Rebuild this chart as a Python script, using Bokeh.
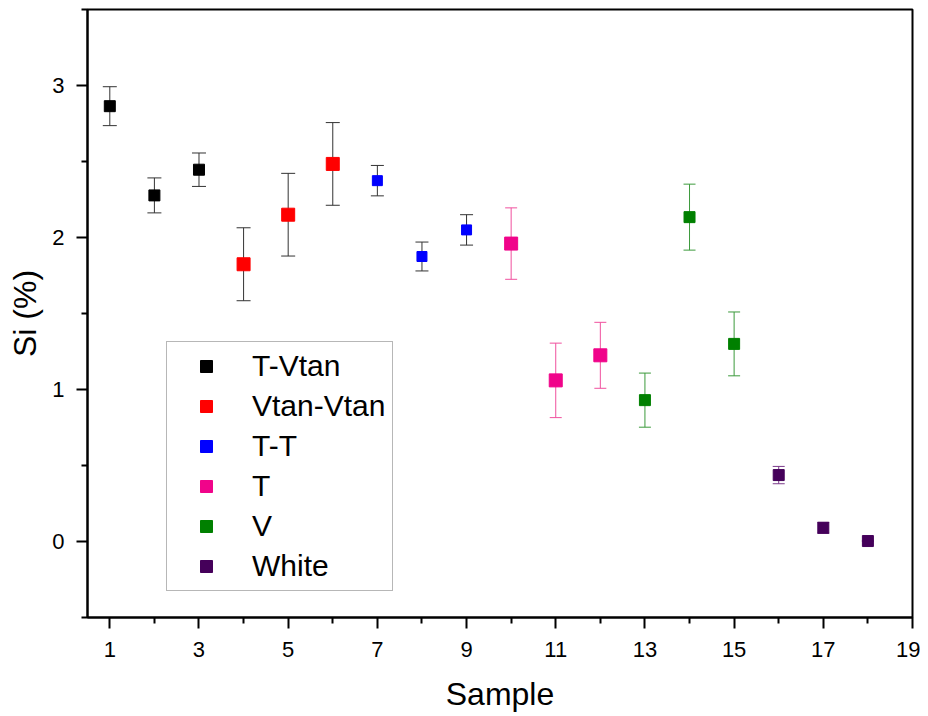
from bokeh.plotting import figure
from bokeh.models import (ColumnDataSource, Whisker, TeeHead, Legend, LegendItem,
                          FixedTicker, Range1d)
from bokeh.embed import file_html
from bokeh.resources import INLINE

# ---- data ----
series_names = ["T-Vtan", "Vtan-Vtan", "T-T", "T", "V", "White"]
samples = [[1, 2, 3], [4, 5, 6], [7, 8, 9], [10, 11, 12], [13, 14, 15], [16, 17, 18]]
si_values = [
    [2.864, 2.277, 2.446],
    [1.824, 2.150, 2.484],
    [2.374, 1.875, 2.050],
    [1.960, 1.060, 1.225],
    [0.930, 2.134, 1.300],
    [0.437, 0.090, 0.003],
]
si_errors = [
    [0.128, 0.115, 0.110],
    [0.240, 0.272, 0.272],
    [0.100, 0.095, 0.100],
    [0.235, 0.245, 0.217],
    [0.178, 0.217, 0.210],
    [0.057, 0.036, 0.0],
]
x_ticks = [1, 3, 5, 7, 9, 11, 13, 15, 17, 19]
x_minor = [2, 4, 6, 8, 10, 12, 14, 16, 18]
y_ticks = [0, 1, 2, 3]
y_minor = [-0.5, 0.5, 1.5, 2.5, 3.5]

# ---- styles ----
marker_colors = ["#000000", "#FF0000", "#0000FF", "#F0048A", "#008000", "#45005A"]
bar_colors = ["#333333", "#333333", "#333333", "#F0509E", "#3C9A3C", "#7A3A8A"]
marker_sizes = [11, 13, 10, 13, 11, 11]
cap_sizes = [14, 14, 13, 12, 12, 12]

FONT = "Liberation Sans"

p = figure(width=920, height=714, output_backend="svg", toolbar_location=None,
           x_range=Range1d(0.5, 19), y_range=Range1d(-0.5, 3.5),
           min_border_left=87, min_border_right=8, min_border_top=9,
           min_border_bottom=97, background_fill_color="white",
           border_fill_color="white")
p.grid.visible = False
p.outline_line_color = "black"
p.outline_line_width = 2
p.outline_line_alpha = 1

items = []
for name, xs, ys, es, mc, bc, ms, cs in zip(series_names, samples, si_values, si_errors,
                                             marker_colors, bar_colors, marker_sizes, cap_sizes):
    src = ColumnDataSource(dict(x=xs, y=ys,
                                upper=[y + e for y, e in zip(ys, es)],
                                lower=[y - e for y, e in zip(ys, es)]))
    w = Whisker(source=src, base="x", upper="upper", lower="lower", dimension="height",
                line_color=bc, line_width=1,
                upper_head=TeeHead(size=cs, line_color=bc, line_width=1),
                lower_head=TeeHead(size=cs, line_color=bc, line_width=1))
    p.add_layout(w)
    r = p.scatter("x", "y", source=src, marker="square", size=ms,
                  fill_color=mc, line_color=mc, line_width=1)
    items.append(LegendItem(label=name, renderers=[r]))

legend = Legend(items=items, location=(79, 26),
                label_text_font=FONT, label_text_font_size="30px",
                label_text_color="black",
                glyph_width=64, glyph_height=30, label_height=30,
                label_standoff=14, spacing=6, padding=7, margin=0,
                border_line_color="#707070", border_line_width=1,
                background_fill_color="white", background_fill_alpha=1)
p.add_layout(legend)

for ax in (p.xaxis[0], p.yaxis[0]):
    ax.axis_line_width = 2
    ax.axis_line_color = "black"
    ax.major_tick_line_color = "black"
    ax.major_tick_line_width = 2
    ax.minor_tick_line_color = "black"
    ax.minor_tick_line_width = 2
    ax.major_tick_in = 0
    ax.major_tick_out = 11
    ax.minor_tick_in = 0
    ax.minor_tick_out = 6
    ax.major_label_text_font = FONT
    ax.major_label_text_font_size = "22px"
    ax.major_label_text_color = "black"
    ax.axis_label_text_font = FONT
    ax.axis_label_text_font_size = "32px"
    ax.axis_label_text_font_style = "normal"
    ax.axis_label_text_color = "black"

p.xaxis.ticker = FixedTicker(ticks=x_ticks, minor_ticks=x_minor)
p.yaxis.ticker = FixedTicker(ticks=y_ticks, minor_ticks=y_minor)
p.xaxis.axis_label = "Sample"
p.yaxis.axis_label = "Si (%)"
p.xaxis.major_label_standoff = 13
p.yaxis.major_label_standoff = 12
p.xaxis.axis_label_standoff = 16
p.yaxis.axis_label_standoff = 6

open("out.html", "w").write(file_html(p, INLINE))
